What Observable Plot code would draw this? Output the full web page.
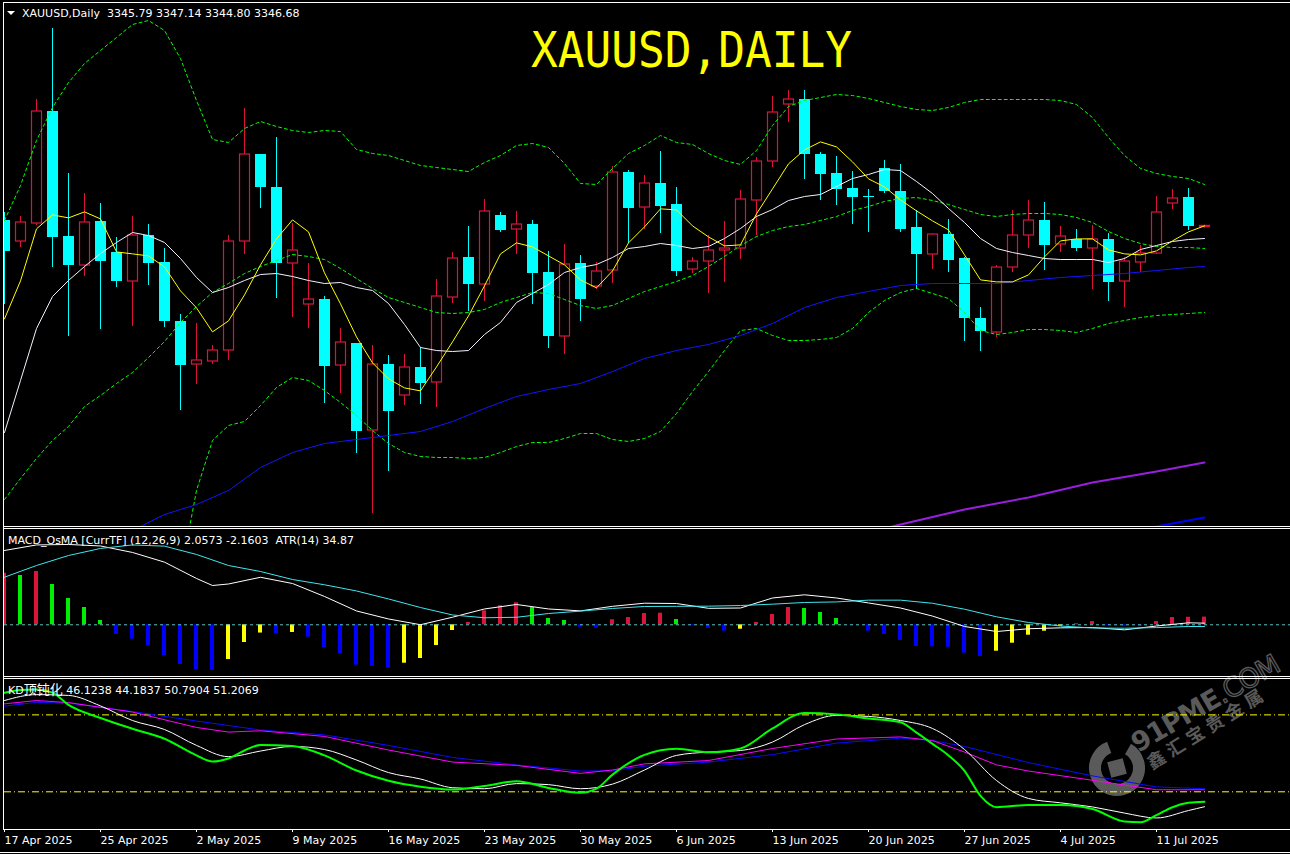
<!DOCTYPE html>
<html><head><meta charset="utf-8">
<script src="https://cdn.jsdelivr.net/npm/d3@7"></script>
<script src="https://cdn.jsdelivr.net/npm/@observablehq/plot@0.6"></script>
<style>
html,body{margin:0;padding:0;background:#000;}
#root{position:relative;width:1290px;height:854px;background:#000;overflow:hidden;}
#root > svg{position:absolute;left:0;}
</style></head><body><div id="root"></div>
<script>
// ---------- candle data (XAUUSD daily, index 0 = 17 Apr 2025) ----------
const open = [3351,3334.2,3348.6,3438.2,3338.2,3315,3350.2,3325.4,3302.2,3339,
 3317.4,3270.2,3235.8,3238.2,3247,3334.2,3403.8,3377.4,3316.6,3283.8,
 3287.8,3235,3252.6,3183,3235.8,3211,3233.4,3221.4,3289.4,3321.4,
 3299.8,3355,3343.8,3347.8,3309.4,3258.2,3316.6,3298.2,3311,3389.4,
 3361.4,3380.6,3363.8,3311.8,3318.2,3327,3328.6,3367,3398.2,3443.8,
 3447.8,3403.8,3388.6,3376.6,3370.2,3392.6,3374.2,3345.4,3323.8,3339.8,
 3320.6,3272.6,3261.4,3313.4,3339,3351,3331.8,3335.8,3328.6,3335.8,
 3302.2,3317.4,3324.6,3364.6,3369.4,3345.79];
const high = [3357.4,3354.2,3447.8,3504.6,3388.6,3372.6,3364.6,3337.4,3354.2,3347.8,
 3328.6,3275.8,3268.6,3251,3339,3440.6,3403.8,3417.4,3348.6,3316.6,
 3290.2,3264.6,3252.6,3251,3243,3243.8,3249.4,3303.8,3325.4,3346.2,
 3367.8,3357.4,3358.2,3351,3326.2,3331.8,3323,3317.4,3394.2,3391,
 3387,3406.2,3377.4,3321.4,3339,3350.2,3375,3401.4,3450.2,3455,
 3455,3405.4,3402.2,3390.2,3375.8,3399,3395.8,3359,3340.6,3351.8,
 3321.4,3281.4,3315,3359,3367,3365.4,3346.2,3343.8,3347,3340.6,
 3321.4,3331,3370.2,3375.8,3376.6,3347.14];
const low = [3283.8,3329.4,3347,3313.4,3258.2,3306.2,3263.8,3297.4,3266.2,3299,
 3265.4,3199,3219.8,3235.8,3239,3323.8,3360.6,3288.6,3273.4,3264.6,
 3204.6,3212.6,3164.6,3116.6,3150.2,3203,3203.8,3201.4,3284.6,3278.2,
 3286.2,3341.4,3323.8,3283.8,3248.6,3243.8,3270.2,3295.8,3300.6,3332.6,
 3343.8,3340.6,3306.2,3308.6,3292.6,3301.4,3319.8,3339,3393.4,3429.4,
 3383.8,3367,3363,3347.8,3341.4,3372.6,3341.4,3295.8,3311.8,3309.4,
 3254.2,3246.2,3257.4,3309.4,3328.6,3311,3325.4,3326.2,3295.8,3286.2,
 3281.4,3309.4,3323.8,3359.8,3343,3344.80];
const close = [3326.2,3349.4,3438.2,3337.4,3315,3349.4,3318.2,3302.2,3339,3316.6,
 3270.2,3235,3239,3247,3334.2,3403.8,3377.4,3316.6,3327,3287.8,
 3234.2,3253.4,3182.2,3235.8,3198.2,3233.4,3220.6,3290.2,3320.6,3299.8,
 3358.2,3343,3347.8,3308.6,3258.2,3315.8,3287.8,3310.2,3389.4,3360.6,
 3380.6,3362.2,3310.2,3318.2,3327,3328.6,3367.8,3398.2,3437.4,3447.8,
 3403.8,3387.8,3375.8,3369.4,3369.4,3374.2,3343.8,3323.8,3339.8,3319,
 3272.6,3262.2,3313.4,3339,3351,3331,3338.2,3328.6,3335.8,3301.4,
 3318.2,3324.6,3357.4,3368.6,3346.2,3346.68];

const dateLabels = ["17 Apr 2025","25 Apr 2025","2 May 2025","9 May 2025","16 May 2025","23 May 2025",
 "30 May 2025","6 Jun 2025","13 Jun 2025","20 Jun 2025","27 Jun 2025","4 Jul 2025","11 Jul 2025"];
const labelEvery = 6;

// ---------- price-panel indicators ----------
const maYellow = [3272.3,3302.7,3344.3,3355.5,3353.1,3357.9,3352.3,3325.9,3324.3,3322.7,
 3313.9,3294.7,3281.1,3261.9,3270.7,3291.5,3315.5,3336.3,3351.5,3341.9,
 3309.1,3284.3,3257.9,3237.1,3224.3,3217.1,3214.7,3233.9,3253.9,3274.7,
 3298.7,3324.3,3333.1,3329.9,3322.7,3315.5,3303.5,3297.1,3310.7,3333.1,
 3345.9,3360.3,3359.5,3346.7,3337.9,3330.7,3331.5,3356.3,3376.3,3396.3,
 3407.5,3413.9,3409.9,3397.9,3384.3,3377.9,3367.5,3358.7,3350.7,3343.5,
 3323.5,3303.5,3301.9,3301.9,3307.5,3321.9,3334.7,3336.3,3336.3,3327.5,
 3324.3,3323.5,3326.7,3334.7,3341.9,3346.7];
const maWhite = [3181.4,3223,3264.6,3290.2,3303,3314.2,3324.6,3333.4,3341.4,3339,
 3333.4,3320.6,3305.4,3293.4,3297.4,3303,3307.8,3308.6,3306.2,3303,
 3300.6,3301.4,3297.4,3295,3284.6,3267.8,3249.4,3247,3246.2,3247,
 3259.8,3269.4,3285.4,3292.6,3299.8,3309.4,3313.4,3315.8,3321.4,3328.6,
 3330.2,3332.6,3331,3328.6,3330.2,3336.6,3344.6,3354.2,3359.8,3367,
 3370.2,3371.8,3378.2,3384.6,3387.8,3391.8,3391,3382.2,3372.6,3360.6,
 3349.4,3336.6,3328.6,3325.4,3323,3320.6,3319.8,3319.8,3319.8,3317.4,
 3320.6,3327.8,3331,3334.2,3335.8,3336.6];
const bbUpper = [3351,3379,3415,3441.4,3461.4,3476.6,3487,3497.4,3507.8,3511,
 3503,3480.6,3447,3415.8,3413.4,3424.6,3430.2,3426.2,3423,3421.4,
 3423,3422.2,3407.8,3404.6,3403,3399,3395,3393.4,3391.8,3390.2,
 3397.4,3403,3411,3412.6,3409.4,3396.6,3380.6,3379.8,3392.6,3404.6,
 3411,3419,3413.4,3411.8,3404.6,3399,3395.8,3407,3427,3442.2,
 3447,3449.4,3451.8,3451,3448.6,3445.4,3442.2,3439.8,3439,3441.4,
 3445.4,3447.8,3447.8,3447.8,3447.8,3447.8,3447,3443.8,3433.4,3417.4,
 3403,3392.6,3388.6,3386.2,3384.6,3379.8];
const bbMiddle = [3127.8,3144.6,3160.6,3175,3186.2,3202.2,3211,3220.6,3229.4,3241.4,
 3254.2,3269.4,3282.2,3293.4,3300.6,3308.6,3314.2,3319,3323.8,3322.2,
 3319.8,3312.6,3304.6,3296.6,3289.4,3285.4,3281.4,3277.4,3276.6,3277.4,
 3279.8,3285.4,3289.4,3293.4,3292.6,3287.8,3283,3280.6,3283,3288.6,
 3294.2,3298.2,3302.2,3307,3314.2,3322.2,3331,3338.2,3343,3346.2,
 3347.8,3351,3354.2,3359,3362.2,3366.2,3368.6,3369.4,3367,3363.8,
 3359.8,3355.8,3354.2,3355.8,3356.6,3356.6,3355.8,3353.4,3349.4,3342.2,
 3336.6,3332.6,3330.2,3329.4,3329.4,3328.6];
const bbLower = [null,null,null,null,null,null,null,null,null,null,
 3005.4,3067,3135,3175,3187,3190.2,3203,3217.4,3225.4,3223,
 3215,3205.4,3195,3183,3172.6,3165.4,3162.2,3161.4,3161.4,3160.6,
 3161.4,3165.4,3170.2,3173.4,3173.4,3176.6,3180.6,3180.6,3175.8,3174.2,
 3176.6,3182.2,3196.6,3214.2,3230.2,3247,3263,3264.6,3259,3255,
 3255,3255.8,3257.4,3264.6,3277.4,3287,3293.4,3296.6,3292.6,3288.6,
 3277.4,3263,3259.8,3261.4,3263.8,3263.8,3263,3261.4,3264.6,3268.6,
 3271,3273.4,3275,3275.8,3276.6,3277.4];
const maBlue = [[8,3103],[10,3115.8],[12,3123.8],[14,3135],[16,3153.4],[18,3165.4],[20,3172.6],[22,3175.8],
 [24,3179],[26,3182.2],[28,3190.2],[30,3200.6],[32,3210.2],[34,3215.8],[36,3220.6],[38,3230.2],[40,3240.6],
 [42,3247],[44,3251.8],[46,3259],[48,3268.6],[50,3281.4],[52,3289.4],[54,3294.2],[56,3299],[58,3300.6],
 [60,3300.6],[62,3300.6],[64,3303],[66,3305.4],[68,3307],[70,3308.6],[72,3311],[74,3313.4],[75,3314.2]];
const maPurple = [[54,3101.4],[56,3107.8],[60,3119.8],[64,3129.4],[68,3141.4],[72,3150.2],[75,3157.4]];
const maBlue2 = [[70,3100.6],[72,3106.2],[74,3111],[75,3113.4]];

// ---------- MACD_OsMA panel ----------
const osma = [64.5,61.6,66.6,50.4,32.9,21.6,5.4,-12.1,-18,-25.9,
 -38.4,-49.6,-55.9,-57.1,-43.4,-22.1,-10.3,-11.3,-9.6,-15.5,
 -28.4,-35.9,-50.5,-52.1,-54.3,-48,-42.1,-25.9,-7.1,2.9,
 17.5,23.8,27.5,21.6,7.9,5.4,-3,-4.3,6.3,9.1,
 14.1,14.5,6.6,-0.9,-4.6,-8,-5.5,2.9,12.9,21.6,
 20.4,15.4,7.9,-0.5,-8,-12.1,-19.6,-27.1,-27.5,-28,
 -35.5,-39.6,-33,-23,-13,-8,-1.8,1.3,4.1,-0.9,
 -1.8,-2,4.1,9.1,9.4,9.6];
const macdMain = [[0,92.9],[2,99.8],[4,100.4],[6,98.5],[8,90.4],[10,78.3],[12,57.9],[13,49.1],[14,51],[16,59.4],
 [18,51.6],[20,35.4],[22,17.3],[24,7.3],[26,0.1],[28,9.5],[30,19.8],[32,25.4],[34,19.8],[36,17.4],[38,23.1],
 [40,27],[42,26.6],[44,20.6],[46,21],[48,33.5],[50,37.5],[52,33.5],[54,27.3],[56,21],[58,10.9],[60,-2.1],
 [62,-8.4],[64,-4.9],[66,-3.8],[68,-3.4],[70,-6.3],[72,-1.5],[74,2.5],[75,2.06]];
const macdSignal = [[0,59.5],[2,74.1],[4,86.6],[6,95.4],[8,99.8],[10,98.3],[12,87.9],[14,74.1],[16,66.6],
 [18,56.6],[20,50],[22,42.3],[24,32.3],[26,21.6],[28,12.3],[30,8.8],[32,9.4],[34,14.1],[36,17.1],[38,20.4],
 [40,22.9],[42,23.1],[44,23.3],[46,24.1],[48,25.8],[50,27.9],[52,28.6],[54,30.8],[56,30.8],[58,26.9],
 [60,19.5],[62,10],[64,2.9],[66,-1.5],[68,-4],[70,-4.3],[72,-3.5],[74,-2.1],[75,-2.16]];

// ---------- KD panel ----------
const kdLevels = [80, 50];
const kdGreen = [[0,88.6],[1,89.7],[2,89.9],[3,88.7],[4,83.9],[6,78.8],[8,74.6],[10,70.7],[12,64.2],[13,61.8],
 [14,63],[15,66.1],[16,68.3],[18,67.9],[20,64.2],[22,58.3],[24,54.3],[26,52],[28,50.9],[30,52.3],[32,54.1],
 [34,51.5],[36,49.6],[37,51.2],[38,56.7],[40,64.4],[42,66.8],[44,65.4],[46,66.9],[48,74.7],[50,80.7],
 [52,80.2],[54,78.6],[56,77.1],[57,73.1],[58,68.7],[59,64.2],[60,58.2],[61,48.4],[62,44],[64,44.9],
 [66,44.9],[68,43.3],[70,38.4],[71,38.1],[72,40.9],[73,44],[74,45.7],[75,46.12]];
const kdWhite = [[0,85.6],[2,87.9],[4,87.6],[6,83.5],[8,77.8],[10,74.3],[12,68.1],[14,63.7],[16,65.9],
 [18,67.7],[20,66.5],[22,62.4],[24,57.5],[26,55],[28,51.6],[30,51.2],[32,53.2],[34,52.8],[36,51.2],[38,53],
 [40,58.5],[42,64.2],[44,65.5],[46,66.1],[48,69.4],[50,76.2],[52,79.8],[54,79.4],[56,77.8],[58,74.7],
 [60,66.5],[62,54.4],[64,47.4],[66,45.7],[68,44.1],[70,41.7],[72,39.8],[74,42.7],[75,44.18]];
const kdMagenta = [[0,84.3],[2,85.6],[4,84.8],[8,81.1],[12,75.1],[14,73.3],[16,73.8],[20,71.6],[24,66.3],
 [28,61.6],[32,60.3],[36,57.2],[38,58.5],[40,60.9],[44,62.2],[48,66.9],[52,70.6],[56,71.4],[58,70],
 [60,65.5],[62,60.5],[64,58.1],[68,54.5],[72,50.8],[75,50.79]];
const kdBlue = [[0,83.4],[2,84.9],[4,84.6],[8,81.3],[12,77.6],[16,74.1],[20,72.2],[24,68.1],[28,63.4],
 [32,60.5],[36,58.1],[38,58.2],[40,60],[44,61.6],[48,64.5],[52,69],[56,70.9],[58,70],[60,67.7],[64,61.4],
 [68,56.2],[72,51.9],[75,51.21]];

// ---------- drawing ----------
const root = document.getElementById("root");
const RED = "#dc143c", CYAN = "#00ffff";
const candles = d3.range(open.length).map(i => ({i, o: open[i], h: high[i], l: low[i], c: close[i]}));
const ups = candles.filter(d => d.c >= d.o), downs = candles.filter(d => d.c < d.o);
const ser = arr => arr.map((v, i) => ({i, v})).filter(d => d.v != null);
const prs = arr => arr.map(([i, v]) => ({i, v}));
const px = 1 / 16; // one pixel in index units (16 px per bar)
const X = {domain: [0, 80.375], axis: null};
const base = {width: 1290, marginLeft: 4, marginRight: 0,
  style: {background: "transparent", fontFamily: "DejaVu Sans", fontSize: "11px", color: "#fff"}};
const L = (data, stroke, extra = {}) => Plot.line(data, {x: "i", y: "v", stroke, strokeWidth: 1, clip: true, ...extra});

// watermark layer (under plots)
const WM = "#5a5a5a";
const wm = d3.select(root).append("svg").attr("width", 1290).attr("height", 854).style("top", "0px");
const wg = wm.append("g").attr("fill", WM);
wg.append("circle").attr("cx", 1117).attr("cy", 768).attr("r", 22).attr("fill", "none")
  .attr("stroke", WM).attr("stroke-width", 12).attr("stroke-dasharray", "118,20").attr("transform", "rotate(-60 1117 768)");
wg.append("rect").attr("x", 1109).attr("y", 760).attr("width", 16).attr("height", 16).attr("transform", "rotate(-15 1117 768)");
wg.append("text").attr("transform", "translate(1138,753) rotate(-30)").attr("font-family", "DejaVu Sans")
  .attr("font-size", 27).attr("font-weight", "bold").attr("letter-spacing", -1).text("91PME")
  .append("tspan").attr("font-weight", "normal").attr("fill", "none").attr("stroke", WM).attr("stroke-width", 1.3).text(".COM");
wg.append("text").attr("transform", "translate(1152,770) rotate(-32)").attr("font-family", "Noto Sans CJK SC")
  .attr("font-size", 18).attr("font-weight", "bold").attr("letter-spacing", 5).text("鑫汇宝贵金属");

// main price panel
const main = Plot.plot({...base, height: 527, marginTop: 3, marginBottom: 1,
  x: X, y: {domain: [3106.2, 3524.6], axis: null},
  marks: [
    Plot.ruleX(downs, {x: "i", y1: "l", y2: "h", stroke: CYAN, clip: true}),
    Plot.ruleX(ups, {x: "i", y1: "l", y2: "h", stroke: RED, clip: true}),
    Plot.rect(downs, {x1: d => d.i - 5 * px, x2: d => d.i + 6 * px, y1: "o", y2: "c", fill: CYAN, clip: true}),
    Plot.rect(ups, {x1: d => d.i - 4.5 * px, x2: d => d.i + 5.5 * px, y1: "o", y2: "c", fill: "#000", stroke: RED, strokeWidth: 1.2, clip: true}),
    L(ser(bbUpper), "#00ff00", {strokeDasharray: "3,3"}),
    L(ser(bbMiddle), "#00ff00", {strokeDasharray: "3,3"}),
    L(ser(bbLower), "#00ff00", {strokeDasharray: "3,3"}),
    L(prs(maBlue), "#1414ff"),
    L(prs(maPurple), "#9a1ee0", {strokeWidth: 2}),
    L(prs(maBlue2), "#0000ff", {strokeWidth: 2}),
    L(ser(maWhite), "#f2f2ff"),
    L(ser(maYellow), "#ffff00")
  ]});
main.style.top = "0px";
root.appendChild(main);

// MACD panel
const osmaBars = osma.map((v, i) => {
  const prev = i > 0 ? osma[i - 1] : -Infinity;
  const color = v >= 0 ? (v > prev ? RED : "#00ee00") : (v < prev ? "#0000ff" : "#ffff00");
  return {i, v, color};
});
const macd = Plot.plot({...base, height: 147, marginTop: 0, marginBottom: 0,
  x: X, y: {domain: [-64.6, 119.1], axis: null}, color: {type: "identity"},
  marks: [
    Plot.rect(osmaBars, {x1: d => d.i - 2 * px, x2: d => d.i + 2 * px, y1: 0, y2: "v", fill: "color", clip: true}),
    Plot.ruleY([0], {stroke: "#5cc4c4", strokeDasharray: "3,3"}),
    L(prs(macdMain), "#ffffff"),
    L(prs(macdSignal), "#3ee6ee")
  ]});
macd.style.top = "529px";
root.appendChild(macd);

// KD panel with date axis
const tickIdx = dateLabels.map((_, k) => k * labelEvery);
const kd = Plot.plot({...base, height: 175, marginTop: 0, marginBottom: 25,
  x: X, y: {domain: [35.3, 93.8], axis: null},
  marks: [
    Plot.ruleY(kdLevels, {stroke: "#ffff00", strokeDasharray: "7,3,1,3"}),
    L(prs(kdBlue), "#0a0aff"),
    L(prs(kdMagenta), "#ff00ff"),
    L(prs(kdWhite), "#ffffff", {curve: "monotone-x"}),
    L(prs(kdGreen), "#00ff00", {strokeWidth: 2, curve: "monotone-x"}),
    Plot.axisX(tickIdx, {anchor: "bottom", label: null, tickSize: 3, tickPadding: 4, textAnchor: "start",
      tickFormat: d => dateLabels[tickIdx.indexOf(d)], color: "#fff", fontSize: 11})
  ]});
kd.style.top = "679px";
root.appendChild(kd);

// overlay: frame lines and texts
const ov = d3.select(root).append("svg").attr("width", 1290).attr("height", 854).style("top", "0px")
  .attr("font-family", "DejaVu Sans").attr("font-size", 11).attr("fill", "#fff");
[2, 526, 528, 676, 678, 829].forEach(y => ov.append("line").attr("x1", 3).attr("x2", 1290)
  .attr("y1", y + 0.5).attr("y2", y + 0.5).attr("stroke", "#fff"));
ov.append("line").attr("x1", 0).attr("x2", 1290).attr("y1", 852.5).attr("y2", 852.5).attr("stroke", "#fff");
ov.append("line").attr("x1", 3.5).attr("x2", 3.5).attr("y1", 2).attr("y2", 830).attr("stroke", "#fff");
ov.append("path").attr("d", "M7,11 L15,11 L11,15 Z").attr("fill", "#fff");
ov.append("text").attr("x", 22).attr("y", 17).style("white-space", "pre")
  .text("XAUUSD,Daily  3345.79 3347.14 3344.80 3346.68");
ov.append("text").attr("x", 531).attr("y", 67).attr("font-family", "DejaVu Sans Mono").attr("font-size", 49)
  .attr("fill", "#ffff00").attr("textLength", 321).attr("lengthAdjust", "spacingAndGlyphs").text("XAUUSD,DAILY");
ov.append("text").attr("x", 8).attr("y", 544).style("white-space", "pre")
  .text("MACD_OsMA [CurrTF] (12,26,9) 2.0573 -2.1603  ATR(14) 34.87");
const kdt = ov.append("text").attr("x", 8).attr("y", 694);
kdt.append("tspan").text("KD");
kdt.append("tspan").attr("font-family", "Noto Sans CJK SC").attr("font-size", 13).text("顶钝化");
kdt.append("tspan").text(" 46.1238 44.1837 50.7904 51.2069");
</script></body></html>
